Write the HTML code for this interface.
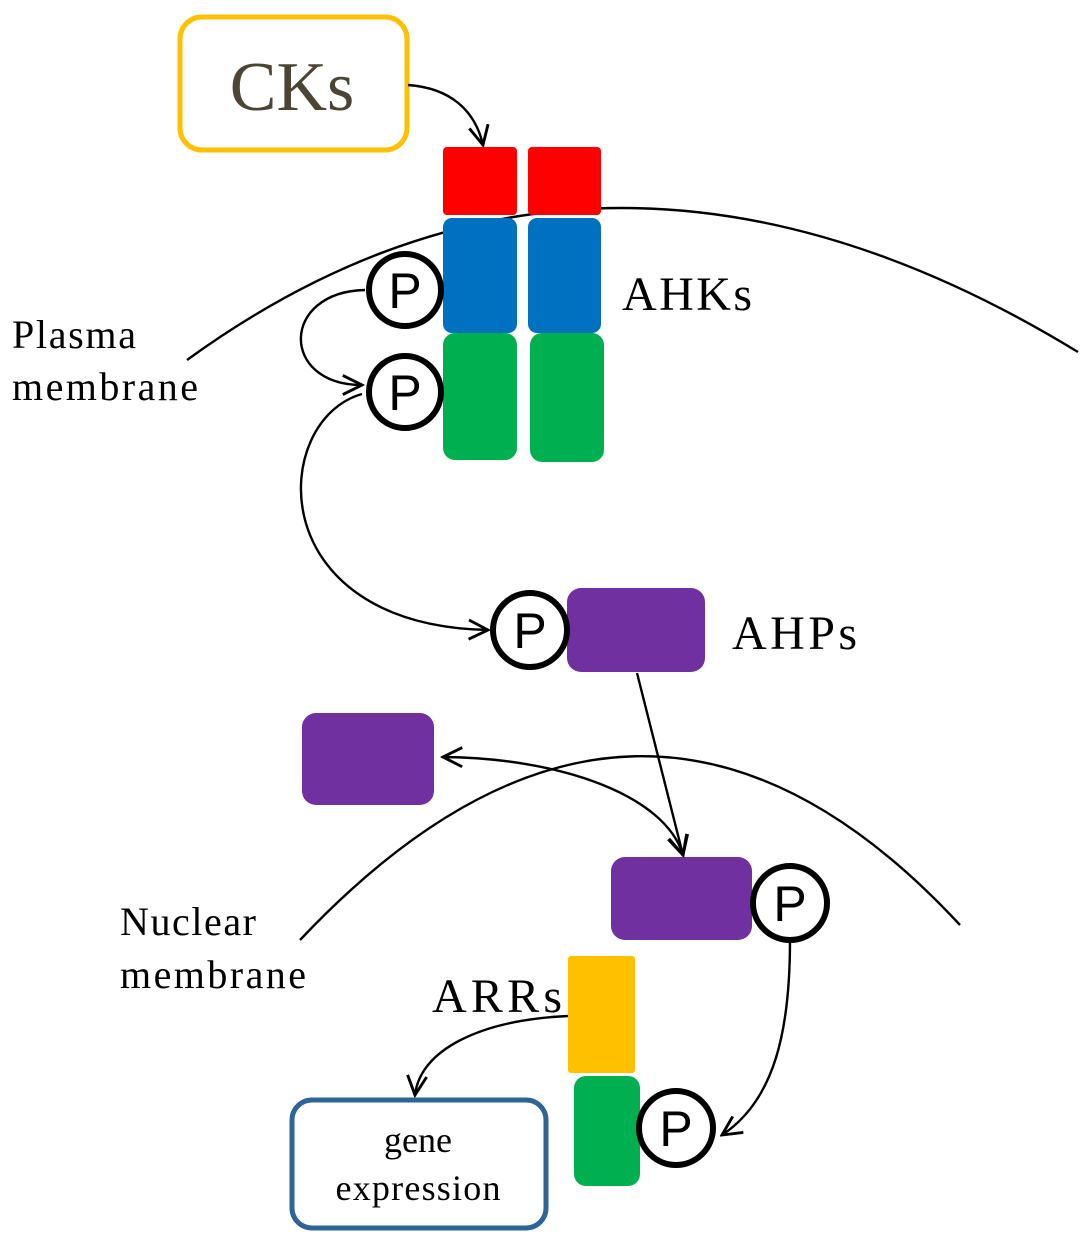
<!DOCTYPE html>
<html><head><meta charset="utf-8"><style>html,body{margin:0;padding:0;background:#fff}svg{display:block}</style></head>
<body>
<svg width="1092" height="1252" viewBox="0 0 1092 1252" xmlns="http://www.w3.org/2000/svg">
<defs>
<marker id="a" viewBox="0 0 20 20" refX="18" refY="10" markerWidth="24" markerHeight="24" markerUnits="userSpaceOnUse" orient="auto-start-reverse">
<path d="M2,2 L18,10 L2,18" fill="none" stroke="#000" stroke-width="2.4"/>
</marker>
</defs>
<g fill="none" stroke="#000" stroke-width="2.4">
<path d="M187,360 Q600,60 1078,352"/>
<path d="M300,940 Q640,580 960,925"/>
</g>
<rect x="180" y="17" width="227" height="133" rx="22" fill="#fff" stroke="#FFC000" stroke-width="5"/>
<text x="292" y="110" font-family="Liberation Serif,serif" font-size="70" fill="#4a4535" text-anchor="middle">CKs</text>
<g fill="none" stroke="#000" stroke-width="2.4">
<path d="M408,85 C450,88 475,110 483,145" marker-end="url(#a)"/>
</g>
<rect x="443" y="147" width="74" height="68" rx="4" fill="#FF0000"/>
<rect x="528" y="147" width="73" height="68" rx="4" fill="#FF0000"/>
<rect x="443" y="218" width="74" height="115" rx="9" fill="#0070C0"/>
<rect x="528" y="218" width="73" height="115" rx="9" fill="#0070C0"/>
<rect x="443" y="333" width="74" height="127" rx="12" fill="#00B050"/>
<rect x="530" y="333" width="74" height="129" rx="12" fill="#00B050"/>
<rect x="567" y="588" width="138" height="84" rx="14" fill="#7030A0"/>
<rect x="302" y="713" width="132" height="92" rx="14" fill="#7030A0"/>
<rect x="611" y="857" width="141" height="83" rx="14" fill="#7030A0"/>
<rect x="568" y="956" width="67" height="117" rx="3" fill="#FFC000"/>
<rect x="574" y="1076" width="66" height="110" rx="12" fill="#00B050"/>
<rect x="292" y="1100" width="254" height="128" rx="20" fill="#fff" stroke="#2E6496" stroke-width="5"/>
<g fill="none" stroke="#000" stroke-width="2.4">
<path d="M365,290 C280,292 280,385 362,385" marker-end="url(#a)"/>
<path d="M362,394 C270,420 260,625 488,630" marker-end="url(#a)"/>
<path d="M637,673 L683,855" marker-end="url(#a)"/>
<path d="M443,757 C560,758 665,795 683,855" marker-start="url(#a)" marker-end="url(#a)"/>
<path d="M790,940 C790,1030 775,1100 722,1135" marker-end="url(#a)"/>
<path d="M568,1016 C480,1020 420,1050 415,1095" marker-end="url(#a)"/>
</g>
<g fill="#fff" stroke="#000" stroke-width="6">
<circle cx="405" cy="290" r="36"/>
<circle cx="405" cy="392" r="36"/>
<circle cx="530" cy="630" r="37"/>
<circle cx="790" cy="903" r="37"/>
<circle cx="676" cy="1128" r="37"/>
</g>
<g font-family="Liberation Sans,sans-serif" font-size="50" text-anchor="middle" fill="#000">
<text x="405" y="308">P</text>
<text x="405" y="410">P</text>
<text x="530" y="648">P</text>
<text x="790" y="921">P</text>
<text x="676" y="1146">P</text>
</g>
<g font-family="Liberation Serif,serif" fill="#000">
<text x="622" y="310" font-size="48" textLength="130">AHKs</text>
<text x="732" y="649" font-size="48" textLength="125">AHPs</text>
<text x="432" y="1012" font-size="48" textLength="130">ARRs</text>
<text x="12" y="348" font-size="40" textLength="124">Plasma</text>
<text x="12" y="400" font-size="40" textLength="186">membrane</text>
<text x="120" y="935" font-size="40" textLength="136">Nuclear</text>
<text x="120" y="988" font-size="40" textLength="186">membrane</text>
<text x="418" y="1152" font-size="36" text-anchor="middle">gene</text>
<text x="418" y="1200" font-size="36" text-anchor="middle" textLength="165">expression</text>
</g>
</svg>
</body></html>
